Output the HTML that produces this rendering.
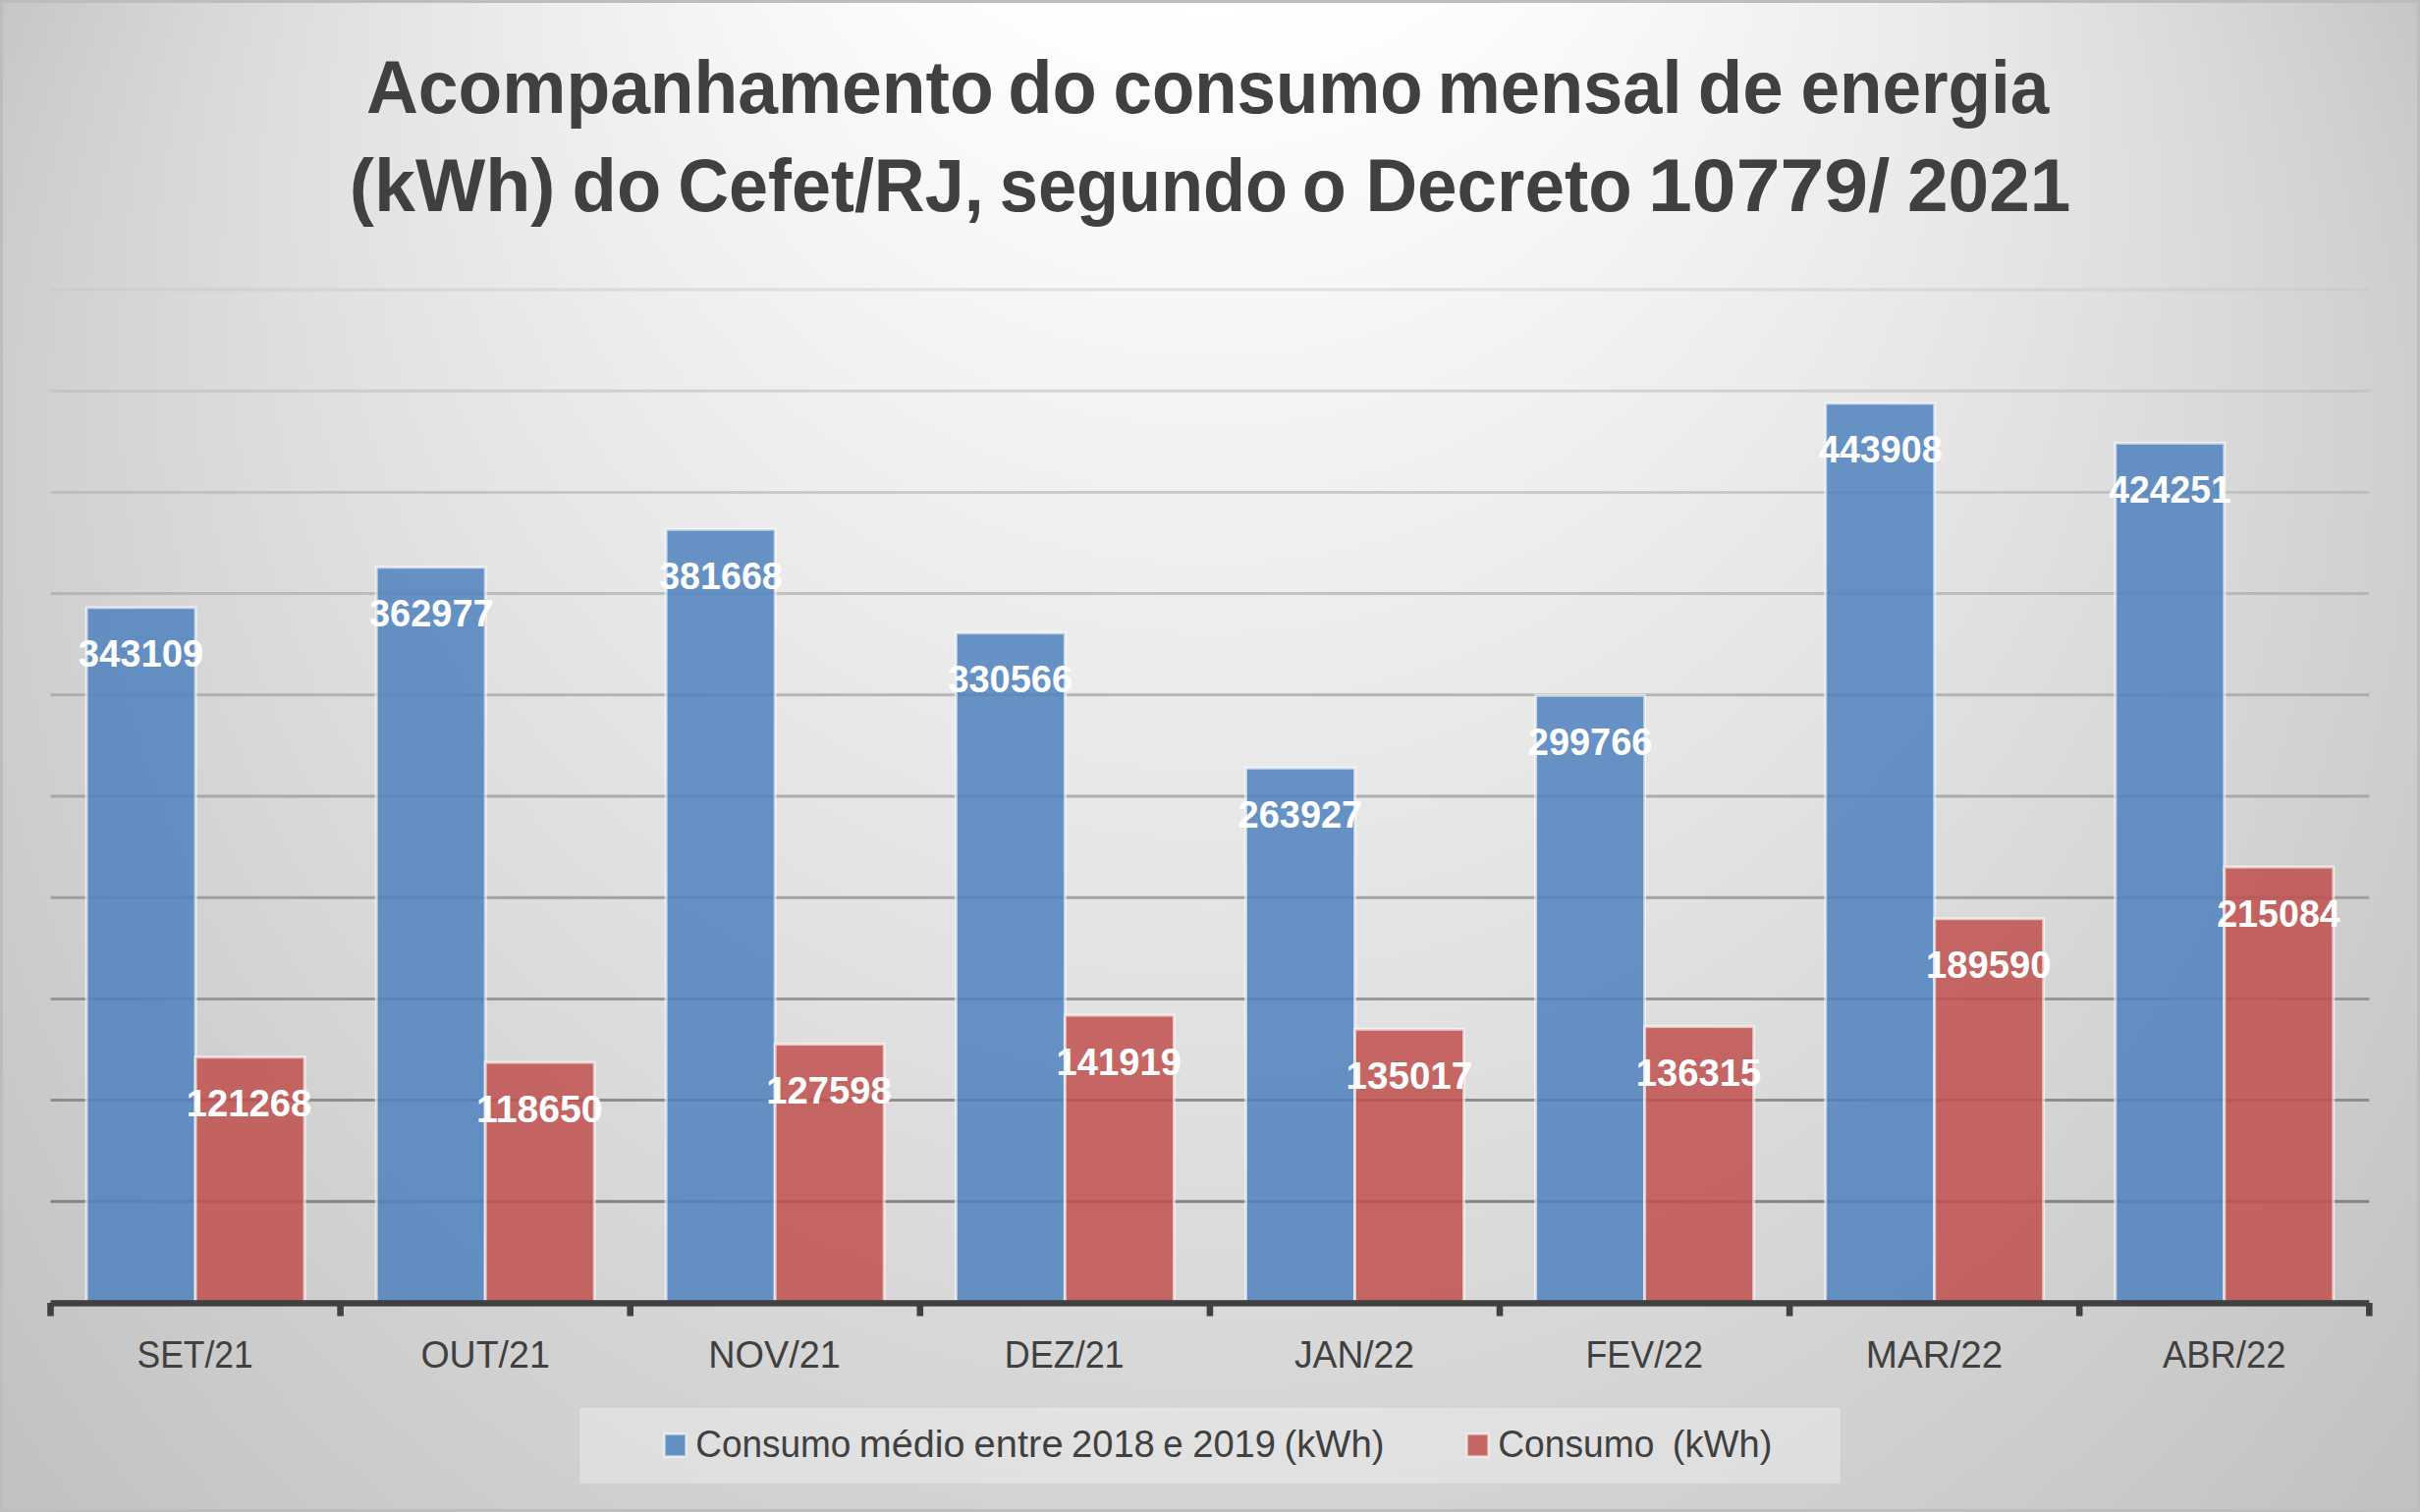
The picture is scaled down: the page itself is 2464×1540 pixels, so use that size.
<!DOCTYPE html>
<html><head><meta charset="utf-8"><style>
html,body{margin:0;padding:0;width:2464px;height:1540px;overflow:hidden;background:#c4c4c4}
svg{display:block}
text{font-family:"Liberation Sans",sans-serif;-webkit-font-smoothing:antialiased}
</style></head><body>
<svg width="2464" height="1540" viewBox="0 0 2464 1540">
<defs>
<radialGradient id="bg" gradientUnits="userSpaceOnUse" cx="1232" cy="700" r="1450" fx="1232" fy="-700">
<stop offset="0" stop-color="#ffffff"/>
<stop offset="0.25" stop-color="#ffffff"/>
<stop offset="1" stop-color="#c2c2c2"/>
</radialGradient>
</defs>
<rect x="0" y="0" width="2464" height="1540" fill="url(#bg)"/>
<rect x="1.5" y="1.5" width="2461" height="1537" fill="none" stroke="#bdbdbd" stroke-width="3"/>
<text x="692.35" y="115.4" text-anchor="middle" font-weight="bold" font-size="76" fill="#404040" textLength="638.70" lengthAdjust="spacingAndGlyphs">Acompanhamento</text>
<text x="1071.50" y="115.4" text-anchor="middle" font-weight="bold" font-size="76" fill="#404040" textLength="90.60" lengthAdjust="spacingAndGlyphs">do</text>
<text x="1291.05" y="115.4" text-anchor="middle" font-weight="bold" font-size="76" fill="#404040" textLength="314.90" lengthAdjust="spacingAndGlyphs">consumo</text>
<text x="1588.00" y="115.4" text-anchor="middle" font-weight="bold" font-size="76" fill="#404040" textLength="249.20" lengthAdjust="spacingAndGlyphs">mensal</text>
<text x="1772.30" y="115.4" text-anchor="middle" font-weight="bold" font-size="76" fill="#404040" textLength="87.00" lengthAdjust="spacingAndGlyphs">de</text>
<text x="1959.90" y="115.4" text-anchor="middle" font-weight="bold" font-size="76" fill="#404040" textLength="252.60" lengthAdjust="spacingAndGlyphs">energia</text>
<text x="460.60" y="215.3" text-anchor="middle" font-weight="bold" font-size="76" fill="#404040" textLength="209.60" lengthAdjust="spacingAndGlyphs">(kWh)</text>
<text x="627.90" y="215.3" text-anchor="middle" font-weight="bold" font-size="76" fill="#404040" textLength="90.60" lengthAdjust="spacingAndGlyphs">do</text>
<text x="845.95" y="215.3" text-anchor="middle" font-weight="bold" font-size="76" fill="#404040" textLength="311.50" lengthAdjust="spacingAndGlyphs">Cefet/RJ,</text>
<text x="1164.45" y="215.3" text-anchor="middle" font-weight="bold" font-size="76" fill="#404040" textLength="293.30" lengthAdjust="spacingAndGlyphs">segundo</text>
<text x="1348.25" y="215.3" text-anchor="middle" font-weight="bold" font-size="76" fill="#404040" textLength="45.10" lengthAdjust="spacingAndGlyphs">o</text>
<text x="1526.10" y="215.3" text-anchor="middle" font-weight="bold" font-size="76" fill="#404040" textLength="271.20" lengthAdjust="spacingAndGlyphs">Decreto</text>
<text x="1801.20" y="215.3" text-anchor="middle" font-weight="bold" font-size="76" fill="#404040" textLength="246.20" lengthAdjust="spacingAndGlyphs">10779/</text>
<text x="2025.15" y="215.3" text-anchor="middle" font-weight="bold" font-size="76" fill="#404040" textLength="166.30" lengthAdjust="spacingAndGlyphs">2021</text>
<path d="M51.5 295.0H2412.3" stroke="rgb(196,196,196)" stroke-opacity="0.46" stroke-width="3" fill="none"/>
<path d="M51.5 398.2H2412.3" stroke="rgb(185,185,185)" stroke-opacity="0.52" stroke-width="3" fill="none"/>
<path d="M51.5 501.4H2412.3" stroke="rgb(176,176,176)" stroke-opacity="0.58" stroke-width="3" fill="none"/>
<path d="M51.5 604.6H2412.3" stroke="rgb(167,167,167)" stroke-opacity="0.64" stroke-width="3" fill="none"/>
<path d="M51.5 707.8H2412.3" stroke="rgb(160,160,160)" stroke-opacity="0.7" stroke-width="3" fill="none"/>
<path d="M51.5 811.0H2412.3" stroke="rgb(154,154,154)" stroke-opacity="0.76" stroke-width="3" fill="none"/>
<path d="M51.5 914.2H2412.3" stroke="rgb(148,148,148)" stroke-opacity="0.82" stroke-width="3" fill="none"/>
<path d="M51.5 1017.4H2412.3" stroke="rgb(142,142,142)" stroke-opacity="0.88" stroke-width="3" fill="none"/>
<path d="M51.5 1120.6H2412.3" stroke="rgb(137,137,137)" stroke-opacity="0.94" stroke-width="3" fill="none"/>
<path d="M51.5 1223.8H2412.3" stroke="rgb(132,132,132)" stroke-opacity="1.0" stroke-width="3" fill="none"/>
<rect x="88.1" y="618.8" width="111.0" height="708.2" fill="#4F81BD" fill-opacity="0.85" stroke="#ffffff" stroke-opacity="0.6" stroke-width="3"/>
<rect x="199.1" y="1076.7" width="111.0" height="250.3" fill="#C0504D" fill-opacity="0.85" stroke="#ffffff" stroke-opacity="0.6" stroke-width="3"/>
<rect x="383.2" y="577.8" width="111.0" height="749.2" fill="#4F81BD" fill-opacity="0.85" stroke="#ffffff" stroke-opacity="0.6" stroke-width="3"/>
<rect x="494.2" y="1082.1" width="111.0" height="244.9" fill="#C0504D" fill-opacity="0.85" stroke="#ffffff" stroke-opacity="0.6" stroke-width="3"/>
<rect x="678.2" y="539.2" width="111.0" height="787.8" fill="#4F81BD" fill-opacity="0.85" stroke="#ffffff" stroke-opacity="0.6" stroke-width="3"/>
<rect x="789.2" y="1063.6" width="111.0" height="263.4" fill="#C0504D" fill-opacity="0.85" stroke="#ffffff" stroke-opacity="0.6" stroke-width="3"/>
<rect x="973.4" y="644.7" width="111.0" height="682.3" fill="#4F81BD" fill-opacity="0.85" stroke="#ffffff" stroke-opacity="0.6" stroke-width="3"/>
<rect x="1084.4" y="1034.1" width="111.0" height="292.9" fill="#C0504D" fill-opacity="0.85" stroke="#ffffff" stroke-opacity="0.6" stroke-width="3"/>
<rect x="1268.5" y="782.3" width="111.0" height="544.7" fill="#4F81BD" fill-opacity="0.85" stroke="#ffffff" stroke-opacity="0.6" stroke-width="3"/>
<rect x="1379.5" y="1048.3" width="111.0" height="278.7" fill="#C0504D" fill-opacity="0.85" stroke="#ffffff" stroke-opacity="0.6" stroke-width="3"/>
<rect x="1563.6" y="708.3" width="111.0" height="618.7" fill="#4F81BD" fill-opacity="0.85" stroke="#ffffff" stroke-opacity="0.6" stroke-width="3"/>
<rect x="1674.6" y="1045.6" width="111.0" height="281.4" fill="#C0504D" fill-opacity="0.85" stroke="#ffffff" stroke-opacity="0.6" stroke-width="3"/>
<rect x="1858.7" y="410.8" width="111.0" height="916.2" fill="#4F81BD" fill-opacity="0.85" stroke="#ffffff" stroke-opacity="0.6" stroke-width="3"/>
<rect x="1969.7" y="935.7" width="111.0" height="391.3" fill="#C0504D" fill-opacity="0.85" stroke="#ffffff" stroke-opacity="0.6" stroke-width="3"/>
<rect x="2153.8" y="451.3" width="111.0" height="875.7" fill="#4F81BD" fill-opacity="0.85" stroke="#ffffff" stroke-opacity="0.6" stroke-width="3"/>
<rect x="2264.8" y="883.1" width="111.0" height="443.9" fill="#C0504D" fill-opacity="0.85" stroke="#ffffff" stroke-opacity="0.6" stroke-width="3"/>
<rect x="51.5" y="1324.2" width="2360.8" height="6.4" fill="#404040"/>
<rect x="48.2" y="1327" width="6.6" height="13.5" fill="#404040"/>
<rect x="343.3" y="1327" width="6.6" height="13.5" fill="#404040"/>
<rect x="638.4" y="1327" width="6.6" height="13.5" fill="#404040"/>
<rect x="933.5" y="1327" width="6.6" height="13.5" fill="#404040"/>
<rect x="1228.6" y="1327" width="6.6" height="13.5" fill="#404040"/>
<rect x="1523.7" y="1327" width="6.6" height="13.5" fill="#404040"/>
<rect x="1818.8" y="1327" width="6.6" height="13.5" fill="#404040"/>
<rect x="2113.9" y="1327" width="6.6" height="13.5" fill="#404040"/>
<rect x="2409.0" y="1327" width="6.6" height="13.5" fill="#404040"/>
<text x="143.60" y="679.3" text-anchor="middle" font-weight="bold" font-size="38.5" fill="#ffffff" textLength="127.60" lengthAdjust="spacingAndGlyphs">343109</text>
<text x="253.60" y="1137.2" text-anchor="middle" font-weight="bold" font-size="38.5" fill="#ffffff" textLength="127.60" lengthAdjust="spacingAndGlyphs">121268</text>
<text x="439.30" y="638.3" text-anchor="middle" font-weight="bold" font-size="38.5" fill="#ffffff" textLength="126.60" lengthAdjust="spacingAndGlyphs">362977</text>
<text x="549.30" y="1142.6" text-anchor="middle" font-weight="bold" font-size="38.5" fill="#ffffff" textLength="128.60" lengthAdjust="spacingAndGlyphs">118650</text>
<text x="734.00" y="599.7" text-anchor="middle" font-weight="bold" font-size="38.5" fill="#ffffff" textLength="125.60" lengthAdjust="spacingAndGlyphs">381668</text>
<text x="844.00" y="1124.1" text-anchor="middle" font-weight="bold" font-size="38.5" fill="#ffffff" textLength="127.60" lengthAdjust="spacingAndGlyphs">127598</text>
<text x="1028.70" y="705.2" text-anchor="middle" font-weight="bold" font-size="38.5" fill="#ffffff" textLength="126.60" lengthAdjust="spacingAndGlyphs">330566</text>
<text x="1139.20" y="1094.6" text-anchor="middle" font-weight="bold" font-size="38.5" fill="#ffffff" textLength="127.60" lengthAdjust="spacingAndGlyphs">141919</text>
<text x="1323.90" y="842.8" text-anchor="middle" font-weight="bold" font-size="38.5" fill="#ffffff" textLength="126.60" lengthAdjust="spacingAndGlyphs">263927</text>
<text x="1434.90" y="1108.8" text-anchor="middle" font-weight="bold" font-size="38.5" fill="#ffffff" textLength="128.60" lengthAdjust="spacingAndGlyphs">135017</text>
<text x="1619.10" y="768.8" text-anchor="middle" font-weight="bold" font-size="38.5" fill="#ffffff" textLength="126.60" lengthAdjust="spacingAndGlyphs">299766</text>
<text x="1729.60" y="1106.1" text-anchor="middle" font-weight="bold" font-size="38.5" fill="#ffffff" textLength="127.60" lengthAdjust="spacingAndGlyphs">136315</text>
<text x="1914.80" y="471.3" text-anchor="middle" font-weight="bold" font-size="38.5" fill="#ffffff" textLength="125.60" lengthAdjust="spacingAndGlyphs">443908</text>
<text x="2024.80" y="996.2" text-anchor="middle" font-weight="bold" font-size="38.5" fill="#ffffff" textLength="127.60" lengthAdjust="spacingAndGlyphs">189590</text>
<text x="2209.50" y="511.8" text-anchor="middle" font-weight="bold" font-size="38.5" fill="#ffffff" textLength="124.60" lengthAdjust="spacingAndGlyphs">424251</text>
<text x="2320.00" y="943.6" text-anchor="middle" font-weight="bold" font-size="38.5" fill="#ffffff" textLength="125.60" lengthAdjust="spacingAndGlyphs">215084</text>
<text x="198.70" y="1392.5" text-anchor="middle" font-size="38" fill="#404040" textLength="118.20" lengthAdjust="spacingAndGlyphs">SET/21</text>
<text x="494.10" y="1392.5" text-anchor="middle" font-size="38" fill="#404040" textLength="131.40" lengthAdjust="spacingAndGlyphs">OUT/21</text>
<text x="788.50" y="1392.5" text-anchor="middle" font-size="38" fill="#404040" textLength="134.60" lengthAdjust="spacingAndGlyphs">NOV/21</text>
<text x="1083.70" y="1392.5" text-anchor="middle" font-size="38" fill="#404040" textLength="121.80" lengthAdjust="spacingAndGlyphs">DEZ/21</text>
<text x="1379.00" y="1392.5" text-anchor="middle" font-size="38" fill="#404040" textLength="122.00" lengthAdjust="spacingAndGlyphs">JAN/22</text>
<text x="1674.20" y="1392.5" text-anchor="middle" font-size="38" fill="#404040" textLength="119.60" lengthAdjust="spacingAndGlyphs">FEV/22</text>
<text x="1969.50" y="1392.5" text-anchor="middle" font-size="38" fill="#404040" textLength="139.40" lengthAdjust="spacingAndGlyphs">MAR/22</text>
<text x="2264.70" y="1392.5" text-anchor="middle" font-size="38" fill="#404040" textLength="125.40" lengthAdjust="spacingAndGlyphs">ABR/22</text>
<rect x="590" y="1434" width="1284" height="77" fill="#ffffff" fill-opacity="0.3"/>
<rect x="676.5" y="1460.5" width="22" height="23" fill="#4F81BD" fill-opacity="0.85" stroke="#fff" stroke-opacity="0.6" stroke-width="2.5"/>
<rect x="1493.5" y="1460.5" width="22" height="23" fill="#C0504D" fill-opacity="0.85" stroke="#fff" stroke-opacity="0.6" stroke-width="2.5"/>
<text x="787.30" y="1484.1" text-anchor="middle" font-size="38.5" fill="#404040" textLength="158.20" lengthAdjust="spacingAndGlyphs">Consumo</text>
<text x="928.60" y="1484.1" text-anchor="middle" font-size="38.5" fill="#404040" textLength="107.60" lengthAdjust="spacingAndGlyphs">médio</text>
<text x="1037.10" y="1484.1" text-anchor="middle" font-size="38.5" fill="#404040" textLength="91.00" lengthAdjust="spacingAndGlyphs">entre</text>
<text x="1133.40" y="1484.1" text-anchor="middle" font-size="38.5" fill="#404040" textLength="84.80" lengthAdjust="spacingAndGlyphs">2018</text>
<text x="1194.40" y="1484.1" text-anchor="middle" font-size="38.5" fill="#404040" textLength="20.40" lengthAdjust="spacingAndGlyphs">e</text>
<text x="1256.60" y="1484.1" text-anchor="middle" font-size="38.5" fill="#404040" textLength="84.80" lengthAdjust="spacingAndGlyphs">2019</text>
<text x="1358.50" y="1484.1" text-anchor="middle" font-size="38.5" fill="#404040" textLength="102.20" lengthAdjust="spacingAndGlyphs">(kWh)</text>
<text x="1604.80" y="1484.1" text-anchor="middle" font-size="38.5" fill="#404040" textLength="159.20" lengthAdjust="spacingAndGlyphs">Consumo</text>
<text x="1753.60" y="1484.1" text-anchor="middle" font-size="38.5" fill="#404040" textLength="101.60" lengthAdjust="spacingAndGlyphs">(kWh)</text>
</svg></body></html>
